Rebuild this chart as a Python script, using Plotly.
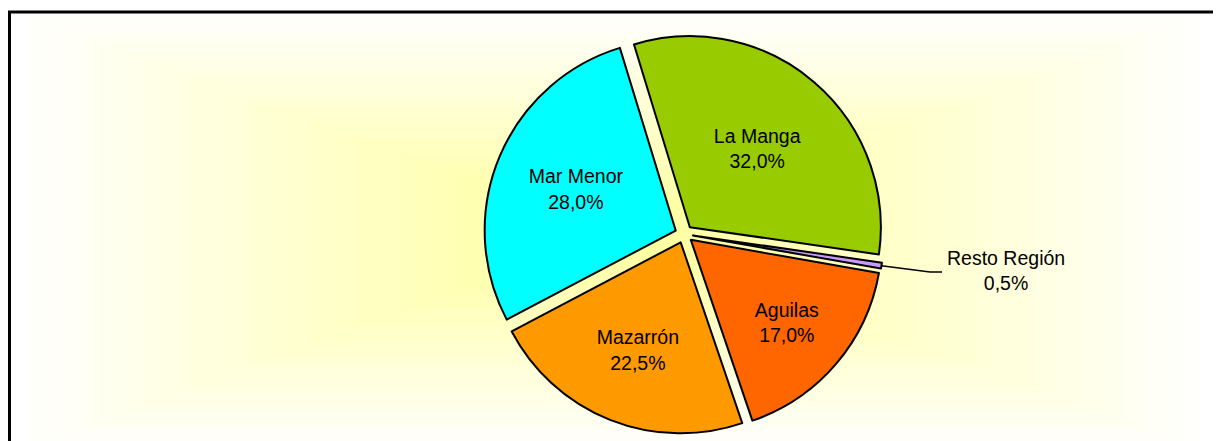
import math
import plotly.graph_objects as go

# ---- data ----
labels = ["La Manga", "Resto Región", "Aguilas", "Mazarrón", "Mar Menor"]
values = [32.0, 0.5, 17.0, 22.5, 28.0]
colors = ["#99CC00", "#CC99FF", "#FF6600", "#FF9900", "#00FFFF"]

W, H = 1221, 441
OFF = 8  # the page body adds an 8px margin; positions below are page pixels
FONT = "Liberation Sans, Arial, sans-serif"
FS = 19.5
ROT = -17
PULL = 0.047
PIE_CX, PIE_CY, PIE_HALF = 684 - OFF, 234 - OFF, 200
DOM_X = [(PIE_CX - 208) / W, (PIE_CX + 208) / W]
DOM_Y = [1 - (PIE_CY + PIE_HALF) / H, 1 - (PIE_CY - PIE_HALF) / H]


def px(x):
    return (x - OFF) / W


def py(y):
    return 1 - (y - OFF) / H


fig = go.Figure()

textpos = ["inside" if l != "Resto Región" else "none" for l in labels]

fig.add_trace(go.Pie(
    labels=labels,
    values=values,
    sort=False,
    direction="clockwise",
    rotation=ROT,
    pull=[PULL] * len(values),
    marker=dict(colors=colors, line=dict(color="#000000", width=2)),
    textposition=textpos,
    insidetextorientation="horizontal",
    texttemplate="%{label}<br>%{percent:.1%}",
    textfont=dict(family=FONT, size=FS, color="#000000"),
    domain=dict(x=DOM_X, y=DOM_Y),
    showlegend=False,
    hoverinfo="label+percent",
))

# ---- background: rectangular path gradient (yellow centre -> white) ----
shapes = []
gcx, gcy, ghw, ghh = 612, 232, 604, 222
N = 40
for k in range(N, 0, -1):
    t = k / N
    b = int(round(153 + 102 * t))
    col = f"rgb(255,255,{min(b, 255)})"
    shapes.append(dict(type="rect", xref="paper", yref="paper", layer="below",
                       x0=px(gcx - ghw * t), x1=px(gcx + ghw * t),
                       y0=py(gcy + ghh * t), y1=py(gcy - ghh * t),
                       fillcolor=col, line=dict(width=0)))

# frame
shapes.append(dict(type="rect", xref="paper", yref="paper", layer="above",
                   x0=px(9.5), x1=px(1260), y0=py(480), y1=py(12),
                   fillcolor="rgba(0,0,0,0)", line=dict(color="#000000", width=3)))

# ---- leader line for the small slice, derived from the data ----
total = sum(values)
idx = labels.index("Resto Región")
cum = sum(values[:idx])
mid_deg = ROT + 360 * (cum + values[idx] / 2) / total
cx = W * (DOM_X[0] + DOM_X[1]) / 2 + OFF
cy = H * (1 - (DOM_Y[0] + DOM_Y[1]) / 2) + OFF
box_h = H * (DOM_Y[1] - DOM_Y[0])
box_w = W * (DOM_X[1] - DOM_X[0])
r = min(box_w, box_h) / 2 / (1 + PULL)
R = r * (1 + PULL)
tipx = cx + R * math.sin(math.radians(mid_deg))
tipy = cy - R * math.cos(math.radians(mid_deg))
elbx, elby = 930, 272
endx = 942
shapes.append(dict(type="path", xref="paper", yref="paper", layer="above",
                   path=f"M {px(tipx)},{py(tipy)} L {px(elbx)},{py(elby)} L {px(endx)},{py(elby)}",
                   line=dict(color="#000000", width=1.5)))

pct = f"{values[idx] / total * 100:.1f}".replace(".", ",")
annotations = [dict(xref="paper", yref="paper", x=px(1006), y=py(270),
                    text=f"{labels[idx]}<br>{pct}%", showarrow=False,
                    font=dict(family=FONT, size=FS, color="#000000"),
                    xanchor="center", yanchor="middle")]

fig.update_layout(
    width=W, height=H,
    margin=dict(l=0, r=0, t=0, b=0, pad=0),
    paper_bgcolor="#FFFFFF",
    plot_bgcolor="#FFFFFF",
    separators=",.",
    shapes=shapes,
    annotations=annotations,
    font=dict(family=FONT, size=FS, color="#000000"),
)

fig.write_html("out.html")
